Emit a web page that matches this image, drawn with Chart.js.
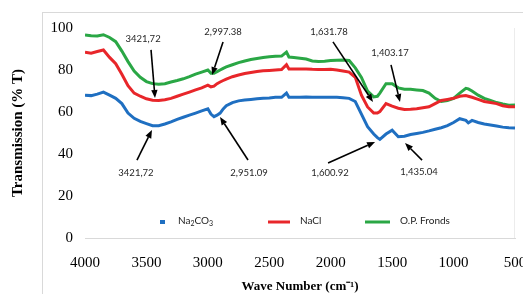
<!DOCTYPE html>
<html>
<head>
<meta charset="utf-8">
<script src="https://cdn.jsdelivr.net/npm/chart.js@4/dist/chart.umd.min.js"></script>
<style>
  html, body { margin: 0; padding: 0; background: #fff; }
  canvas { display: block; }
</style>
</head>
<body>
<canvas id="c" width="523" height="294"></canvas>
<script>
// ---- Data ----
const wavenumbers = [4000,3950,3900,3850,3800,3750,3700,3650,3600,3550,3500,3450,3400,3350,3300,3250,3200,3150,3100,3050,
  3000,2975,2950,2925,2900,2875,2850,2800,2750,2700,2650,2600,2550,2500,2450,2400,2360,2340,2300,2250,
  2200,2150,2100,2050,2000,1950,1900,1850,1800,1750,1700,1650,1620,1600,1550,1500,1450,1400,1350,1300,
  1250,1200,1150,1100,1050,1000,950,900,880,850,800,750,700,650,600,550,500];

const na2co3 = [68,67.8,68.5,69.5,68,66.5,64,59.5,57,55.5,54.5,53.5,53.5,54.3,55.3,56.5,57.5,58.5,59.5,60.5,
  61.5,59,57.8,58.5,59.5,61.5,63,64.5,65.3,65.7,66,66.3,66.5,66.7,67,67,69,67,67,67,
  67.2,67,67,67,67,67,66.8,66.5,65,59,53,49.5,47.8,47,49.5,51.3,48.2,48.5,49.3,49.8,
  50.3,51,51.8,52.5,53.5,55,56.8,56,54.8,56,55,54.3,53.8,53.3,52.8,52.5,52.4];

const nacl = [88.5,88,88.8,89.5,86,83,78,72.5,69,67.5,66.3,65.6,65.5,65.8,66.5,67.5,68.5,69.5,70.5,71.5,
  72.8,72,72.3,73.5,74.3,75,75.7,76.8,77.6,78.3,78.8,79.3,79.6,79.8,80,80.2,82.5,80.5,80.5,80.5,
  80.5,80.3,80.2,80.2,80.3,80,79.5,79,76.5,68,62.4,59.5,59.5,60.2,64,62.8,61.8,61.2,61.3,61.5,
  62,62.5,64,65.5,66,66.5,67.5,67.8,67.5,67,66,65,64.5,64,63,62.5,62.5];

const opFronds = [96.7,96.3,96.2,96.8,95.5,93.5,89,84,79.5,76.5,74.5,73.5,73.2,73.5,74.3,75,75.8,76.8,78,79,
  80,78.5,78.5,79.2,80,80.8,81.5,82.5,83.5,84.3,85,85.5,86,86.3,86.5,86.6,88.5,86.2,86,85.6,
  85.2,84.3,84,84.2,84.5,84.7,84.8,84.5,81,76.5,70,67.2,67.5,69,73.5,73.5,71.5,70.8,70.8,70.5,
  70.2,69,66.5,65,65.5,66.5,69,71.3,71,70,68,66.5,65.5,64.5,63.8,63.2,63.3];

const seriesNames = ['Na2CO3', 'NaCl', 'O.P. Fronds'];
const xTicksMin = 500, xTicksMax = 4000, xStep = 500;
const yTicksMin = 0, yTicksMax = 100, yStep = 20;

// Peak annotations: label text, wavenumber and %T of the arrow tip
const peakLabels = ['3421,72','2,997.38','1,631.78','1,403.17','3421,72','2,951.09','1,600.92','1,435.04'];
const peakWavenumbers = [3430, 2966, 1656, 1436, 3455, 2901, 1639, 1395];
const peakValues = [66.7, 77.6, 64.8, 64.8, 51.4, 57.6, 45.7, 45.2];

// ---- Layout / style (pixels) ----
const peakLabelOffsets = [[-12,-59],[11,-43],[-44,-70],[-10,-49],[-16,43],[29,56],[-45,31],[14,29]];
const peakArrowStarts  = [[-4,-48],[11,-33],[-40,-60],[-9,-37],[-15,30],[28,43],[-47,21],[17,17]];
const colors = ['#1f6fc1', '#e8262a', '#2aa745'];

function pts(vals) { return wavenumbers.map((w, i) => ({ x: w, y: vals[i] })); }

const decor = {
  id: 'decor',
  beforeDraw(chart) {
    const c = chart.ctx;
    c.save();
    c.fillStyle = '#fff';
    c.fillRect(0, 0, chart.width, chart.height);
    c.strokeStyle = '#d9d9d9';
    c.lineWidth = 1;
    c.strokeRect(42.5, 12.5, 700, 400);
    const a = chart.chartArea;
    c.strokeStyle = '#ececec';
    c.beginPath();
    c.moveTo(Math.round(a.right) - 0.5, a.top);
    c.lineTo(Math.round(a.right) - 0.5, a.bottom);
    c.stroke();
    c.restore();
  },
  afterDraw(chart) {
    const c = chart.ctx;
    const xs = chart.scales.x, ys = chart.scales.y;
    c.save();
    // annotations
    c.font = '9.5px Lato, "Open Sans", sans-serif';
    c.textAlign = 'center';
    c.textBaseline = 'middle';
    for (let i = 0; i < peakLabels.length; i++) {
      const tx = xs.getPixelForValue(peakWavenumbers[i]);
      const ty = ys.getPixelForValue(peakValues[i]);
      const lx = tx + peakLabelOffsets[i][0], ly = ty + peakLabelOffsets[i][1];
      const sx = tx + peakArrowStarts[i][0], sy = ty + peakArrowStarts[i][1];
      c.fillStyle = '#262626';
      c.fillText(peakLabels[i], lx, ly);
      const ang = Math.atan2(ty - sy, tx - sx);
      const hl = 8, hw = 3.2;
      const bx = tx - hl * Math.cos(ang), by = ty - hl * Math.sin(ang);
      c.strokeStyle = '#000';
      c.lineWidth = 1.6;
      c.beginPath();
      c.moveTo(sx, sy);
      c.lineTo(bx, by);
      c.stroke();
      c.fillStyle = '#000';
      c.beginPath();
      c.moveTo(tx, ty);
      c.lineTo(bx + hw * Math.sin(ang), by - hw * Math.cos(ang));
      c.lineTo(bx - hw * Math.sin(ang), by + hw * Math.cos(ang));
      c.closePath();
      c.fill();
    }
    // legend
    const ds = chart.data.datasets;
    const ly = 221;
    c.textAlign = 'left';
    c.textBaseline = 'middle';
    c.font = '10px Lato, "Open Sans", sans-serif';
    // Na2CO3 (short marker)
    c.fillStyle = ds[0].borderColor;
    c.fillRect(160, ly - 1, 5, 4);
    c.fillStyle = '#222';
    let x = 178;
    c.font = '10px Lato, "Open Sans", sans-serif';
    c.fillText('Na', x, ly); x += c.measureText('Na').width;
    c.font = '7px Lato, "Open Sans", sans-serif';
    c.fillText('2', x, ly + 2.5); x += c.measureText('2').width;
    c.font = '10px Lato, "Open Sans", sans-serif';
    c.fillText('CO', x, ly); x += c.measureText('CO').width;
    c.font = '7px Lato, "Open Sans", sans-serif';
    c.fillText('3', x, ly + 2.5);
    c.font = '10px Lato, "Open Sans", sans-serif';
    // NaCl
    c.strokeStyle = ds[1].borderColor;
    c.lineWidth = 3;
    c.beginPath(); c.moveTo(268, ly + 1); c.lineTo(290, ly + 1); c.stroke();
    c.fillText(ds[1].label, 300, ly);
    // O.P. Fronds
    c.strokeStyle = ds[2].borderColor;
    c.beginPath(); c.moveTo(365, ly + 1); c.lineTo(390, ly + 1); c.stroke();
    c.fillText(ds[2].label, 400, ly);
    c.restore();
  }
};

new Chart(document.getElementById('c'), {
  type: 'line',
  data: {
    datasets: [
      { label: seriesNames[0], data: pts(na2co3), borderColor: colors[0] },
      { label: seriesNames[1], data: pts(nacl), borderColor: colors[1] },
      { label: seriesNames[2], data: pts(opFronds), borderColor: colors[2] }
    ].map(d => Object.assign(d, { borderWidth: 3, pointRadius: 0, tension: 0, fill: false }))
  },
  options: {
    responsive: false,
    animation: false,
    events: [],
    layout: { padding: { left: 0, right: 8, top: 28, bottom: 0 } },
    plugins: { legend: { display: false }, tooltip: { enabled: false } },
    scales: {
      x: {
        type: 'linear', reverse: true, min: xTicksMin, max: xTicksMax,
        ticks: { stepSize: xStep, padding: 16, color: '#000', maxRotation: 0,
          callback: v => String(v),
          font: { family: '"Liberation Serif", "Times New Roman", serif', size: 15 } },
        grid: { display: false, drawTicks: false },
        border: { display: true, color: '#d9d9d9', width: 1 },
        title: { display: true, text: 'Wave Number (cm\u207B\u00B9)', color: '#000',
          font: { family: '"Liberation Serif", "Times New Roman", serif', size: 13, weight: 'bold' },
          padding: { top: 0, bottom: 0 } },
        afterFit(s) { s.height = 56; s.paddingLeft = 0; s.paddingRight = 0; }
      },
      y: {
        min: yTicksMin, max: yTicksMax,
        ticks: { stepSize: yStep, padding: 12, color: '#000',
          callback: v => String(v),
          font: { family: '"Liberation Serif", "Times New Roman", serif', size: 15 } },
        grid: { display: false, drawTicks: false },
        border: { display: false },
        title: { display: true, text: 'Transmission (% T)', color: '#000',
          font: { family: '"Liberation Serif", "Times New Roman", serif', size: 15, weight: 'bold' },
          padding: { top: 9, bottom: 0 } },
        afterFit(s) { s.width = 85; s.paddingTop = 0; s.paddingBottom = 0; }
      }
    }
  },
  plugins: [decor]
});
</script>
</body>
</html>
